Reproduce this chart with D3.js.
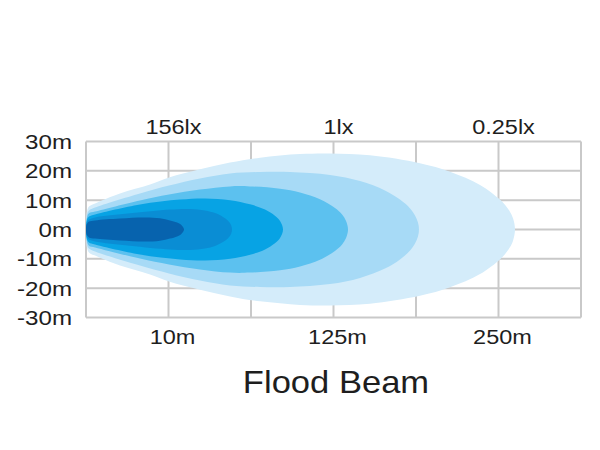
<!DOCTYPE html>
<html>
<head>
<meta charset="utf-8">
<script src="https://cdn.jsdelivr.net/npm/d3@7/dist/d3.min.js"></script>
<style>
  html, body { margin: 0; padding: 0; background: #fff; }
  text { font-family: "Liberation Sans", Arial, sans-serif; fill: #1e1e1e; }
</style>
</head>
<body>
<svg id="chart" width="600" height="450"></svg>
<script>
// ---- data ----
const yTicks = [30, 20, 10, 0, -10, -20, -30];
const yTickLabels = ["30m", "20m", "10m", "0m", "-10m", "-20m", "-30m"];
const xGrid = [0, 50, 100, 150, 200, 250, 300];
const xTickValues = [50, 150, 250];
const xTickLabels = ["10m", "125m", "250m"];
const luxLabels = ["156lx", "1lx", "0.25lx"];
const title = "Flood Beam";

// beam contours: [distance (axis units), half-width (m)], outermost first
const beamLightest = [[0,0],[0.2,3.4],[0.6,6.1],[1.8,7.8],[5.5,8.9],[20.6,12.3],[38.8,15.3],[50.3,17.7],[69.1,20.5],[87.3,22.8],[105.5,24.5],[129.7,25.7],[147.9,25.9],[172.1,25.3],[202.4,22.6],[220.6,19.7],[238.8,15.2],[250.9,10.2],[253.9,8.4],[257,6.0],[258.8,3.8],[260,0]];
const beamLight = [[0,0],[0.2,2.7],[0.6,5.1],[1.8,6.5],[5.5,7.5],[32.7,12.3],[50.3,15.0],[69.1,17.4],[87.3,19.1],[105.5,19.6],[123.6,19.6],[147.9,18.6],[166.1,16.5],[181.2,13.3],[190.3,10.2],[196.4,7.2],[199.4,4.8],[201.2,2.4],[201.8,0]];
const beamMid = [[0,0],[0.2,2.4],[0.6,4.1],[1.8,5.5],[5.5,6.1],[32.7,9.9],[50.3,11.9],[69.1,13.6],[87.3,14.7],[99.4,14.7],[117.6,13.9],[129.7,12.6],[141.8,10.3],[150.9,7.3],[155.2,5.1],[157.6,2.9],[158.8,0]];
const beamBright = [[0,0],[0.2,2.0],[0.6,3.4],[1.8,4.4],[5.5,5.1],[32.7,8.5],[57,10.2],[72.1,10.6],[87.3,10.0],[99.4,8.6],[108.5,6.8],[114.5,4.7],[117.6,2.9],[119.4,0]];
const beamDeep = [[0,0],[0.2,1.7],[0.6,2.7],[1.8,3.4],[5.5,4.1],[26.7,5.5],[50.9,6.8],[63,7.0],[72.1,6.5],[78.2,5.6],[83.0,4.3],[86.1,3.0],[87.9,1.5],[88.5,0]];
const beamCore = [[0,0],[0.2,1.4],[0.6,2.0],[1.8,2.7],[5.5,3.1],[20.6,3.75],[35.8,4.1],[44.8,3.8],[50.9,3.1],[55.2,2.35],[57.6,1.6],[59.4,0]];
const beams = [beamLightest, beamLight, beamMid, beamBright, beamDeep, beamCore];
const beamColors = ["#d4ecfa", "#a7daf6", "#5cc1ef", "#07a3e4", "#0a8dd4", "#0763ae"];

// ---- layout ----
const svg = d3.select("#chart");
const x = d3.scaleLinear().domain([0, 300]).range([86, 581]);
const y = d3.scaleLinear().domain([-30, 30]).range([317.5, 141.5]);

// grid
const grid = svg.append("g");
grid.selectAll("line.v").data(xGrid).enter().append("line")
  .attr("x1", d => x(d)).attr("x2", d => x(d))
  .attr("y1", y(30)).attr("y2", y(-30))
  .attr("stroke", "#c9c9c9").attr("stroke-width", 2);
grid.selectAll("line.h").data(yTicks).enter().append("line")
  .attr("x1", x(0)).attr("x2", x(300))
  .attr("y1", d => y(d)).attr("y2", d => y(d))
  .attr("stroke", "#c9c9c9").attr("stroke-width", 2);

// beams
const line = d3.line().x(d => x(d[0])).y(d => y(d[1])).curve(d3.curveCatmullRomClosed.alpha(0.5));
beams.forEach((b, i) => {
  const upper = b.map(p => [p[0], p[1]]);
  const lower = b.slice(1, -1).reverse().map(p => [p[0], -p[1]]);
  svg.append("path").attr("d", line(upper.concat(lower))).attr("fill", beamColors[i]);
});

// y labels
svg.append("g").selectAll("text").data(yTicks).enter().append("text")
  .attr("transform", d => `translate(72,${y(d) + 7.5}) scale(1.15,1)`)
  .attr("text-anchor", "end").attr("font-size", 21)
  .text((d, i) => yTickLabels[i]);

// bottom labels
svg.append("g").selectAll("text").data(xTickValues).enter().append("text")
  .attr("transform", d => `translate(${x(d) + 4},343.5) scale(1.12,1)`)
  .attr("text-anchor", "middle").attr("font-size", 21)
  .text((d, i) => xTickLabels[i]);

// top labels
svg.append("g").selectAll("text").data(xTickValues).enter().append("text")
  .attr("transform", d => `translate(${x(d) + 5},133.5) scale(1.12,1)`)
  .attr("text-anchor", "middle").attr("font-size", 21)
  .text((d, i) => luxLabels[i]);

// title
svg.append("text")
  .attr("transform", `translate(336,393) scale(1.08,1)`)
  .attr("text-anchor", "middle").attr("font-size", 32)
  .text(title);
</script>
</body>
</html>
